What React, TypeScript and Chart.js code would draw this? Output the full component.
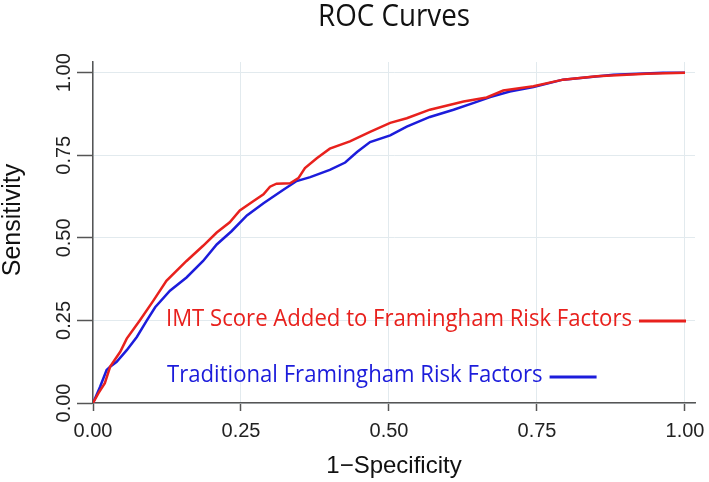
import React, { useEffect, useRef } from "react";
import { Chart, registerables } from "chart.js";

Chart.register(...registerables);

// ---- data ----
const redFpr = [0, 0.009, 0.020, 0.029, 0.046, 0.057, 0.079, 0.102, 0.124, 0.158, 0.186, 0.209, 0.231, 0.248, 0.270, 0.288, 0.299, 0.310, 0.333, 0.347, 0.358, 0.378, 0.400, 0.434, 0.468, 0.502, 0.530, 0.569, 0.626, 0.665, 0.693, 0.744, 0.794, 0.851, 0.935, 1.0];
const redTpr = [0, 0.029, 0.060, 0.110, 0.155, 0.195, 0.250, 0.310, 0.370, 0.430, 0.476, 0.516, 0.547, 0.583, 0.610, 0.632, 0.655, 0.664, 0.665, 0.681, 0.711, 0.741, 0.770, 0.792, 0.821, 0.848, 0.862, 0.888, 0.913, 0.925, 0.946, 0.959, 0.979, 0.989, 0.997, 1.0];

const blueFpr = [0, 0.012, 0.023, 0.029, 0.040, 0.057, 0.074, 0.091, 0.105, 0.130, 0.158, 0.186, 0.209, 0.234, 0.260, 0.288, 0.321, 0.344, 0.367, 0.400, 0.426, 0.446, 0.468, 0.502, 0.530, 0.569, 0.609, 0.642, 0.671, 0.704, 0.744, 0.794, 0.879, 0.963, 1.0];
const blueTpr = [0, 0.049, 0.100, 0.110, 0.125, 0.160, 0.200, 0.250, 0.290, 0.340, 0.380, 0.430, 0.480, 0.520, 0.568, 0.605, 0.645, 0.672, 0.684, 0.706, 0.728, 0.760, 0.790, 0.810, 0.837, 0.866, 0.888, 0.908, 0.926, 0.943, 0.957, 0.979, 0.994, 1.0, 1.0];

const axisTicks = [0, 0.25, 0.5, 0.75, 1];
const tickLabels = ["0.00", "0.25", "0.50", "0.75", "1.00"];

const titleText = "ROC Curves";
const xTitle = "1\u2212Specificity";
const yTitle = "Sensitivity";
const redLabel = "IMT Score Added to Framingham Risk Factors";
const blueLabel = "Traditional Framingham Risk Factors";

const RED = "#e8211d";
const BLUE = "#1c1cdb";
const AXIS = "#555555";
const GRID = "#e2eaee";

const textPlugin = {
  id: "rocText",
  afterDraw(chart: any) {
    const ctx = chart.ctx as CanvasRenderingContext2D;
    const xs = chart.scales.x;
    const ys = chart.scales.y;
    ctx.save();
    ctx.textBaseline = "alphabetic";

    // title (condensed humanist look)
    ctx.fillStyle = "#111111";
    ctx.font = '31px "Open Sans"';
    ctx.textAlign = "center";
    const tw = ctx.measureText(titleText).width;
    ctx.save();
    ctx.translate(394, 26);
    ctx.scale(152 / tw, 1);
    ctx.fillText(titleText, 0, 0);
    ctx.restore();

    // x tick labels
    ctx.fillStyle = "#222222";
    ctx.font = '20px "Liberation Sans"';
    ctx.textAlign = "center";
    axisTicks.forEach((v, i) => {
      ctx.fillText(tickLabels[i], xs.getPixelForValue(v), 437);
    });
    // y tick labels (rotated)
    axisTicks.forEach((v, i) => {
      ctx.save();
      ctx.translate(70, ys.getPixelForValue(v));
      ctx.rotate(-Math.PI / 2);
      ctx.fillText(tickLabels[i], 0, 0);
      ctx.restore();
    });

    // axis titles
    ctx.fillStyle = "#111111";
    ctx.font = '24px "Liberation Sans"';
    ctx.fillText(xTitle, 394, 473);
    ctx.save();
    ctx.translate(20, 220);
    ctx.rotate(-Math.PI / 2);
    ctx.font = '25px "Liberation Sans"';
    ctx.fillText(yTitle, 0, 0);
    ctx.restore();

    // in-plot labels
    ctx.font = '24px "Open Sans"';
    ctx.textAlign = "left";
    const wRed = ctx.measureText(redLabel).width;
    const sx = 466 / wRed;
    const drawScaled = (t: string, x: number, y: number, color: string) => {
      ctx.save();
      ctx.translate(x, y);
      ctx.scale(sx, 1);
      ctx.fillStyle = color;
      ctx.fillText(t, 0, 0);
      ctx.restore();
    };
    drawScaled(redLabel, 166, 326, RED);
    ctx.strokeStyle = RED;
    ctx.lineWidth = 3;
    ctx.beginPath();
    ctx.moveTo(166 + wRed * sx + 7, 321);
    ctx.lineTo(166 + wRed * sx + 54, 321);
    ctx.stroke();

    const wBlue = ctx.measureText(blueLabel).width * sx;
    drawScaled(blueLabel, 167, 382, BLUE);
    ctx.strokeStyle = BLUE;
    ctx.beginPath();
    ctx.moveTo(167 + wBlue + 7, 377);
    ctx.lineTo(167 + wBlue + 54, 377);
    ctx.stroke();

    ctx.restore();
  },
};

export default function App() {
  const ref = useRef<HTMLCanvasElement | null>(null);
  useEffect(() => {
    document.body.style.margin = "0";
    const canvas = ref.current;
    if (!canvas) return;
    const setTicks = (s: any) => {
      s.ticks = axisTicks.map((v) => ({ value: v }));
    };
    const chart = new Chart(canvas, {
      type: "scatter",
      data: {
        datasets: [
          {
            label: redLabel,
            data: redFpr.map((x, i) => ({ x, y: redTpr[i] })),
            showLine: true,
            borderColor: RED,
            backgroundColor: RED,
            borderWidth: 2.5,
            pointRadius: 0,
            tension: 0,
          },
          {
            label: blueLabel,
            data: blueFpr.map((x, i) => ({ x, y: blueTpr[i] })),
            showLine: true,
            borderColor: BLUE,
            backgroundColor: BLUE,
            borderWidth: 2.5,
            pointRadius: 0,
            tension: 0,
          },
        ],
      },
      options: {
        animation: false,
        responsive: false,
        maintainAspectRatio: false,
        layout: { padding: { left: 0, right: 14, top: 62, bottom: 0 } },
        plugins: {
          legend: { display: false },
          title: { display: false },
          tooltip: { enabled: false },
        },
        scales: {
          x: {
            type: "linear",
            min: 0,
            max: 1.0169,
            afterBuildTicks: setTicks,
            afterFit: (s: any) => {
              s.height = 79;
            },
            ticks: { display: false },
            grid: { color: GRID, lineWidth: 1, drawTicks: true, tickLength: 8, tickColor: AXIS, tickWidth: 1.5 },
            border: { color: AXIS, width: 1.5 },
          },
          y: {
            type: "linear",
            min: 0,
            max: 1.0324,
            afterBuildTicks: setTicks,
            afterFit: (s: any) => {
              s.width = 93;
            },
            ticks: { display: false },
            grid: { color: GRID, lineWidth: 1, drawTicks: true, tickLength: 16, tickColor: AXIS, tickWidth: 1.5 },
            border: { color: AXIS, width: 1.5 },
          },
        },
      },
      plugins: [textPlugin],
    } as any);
    const fonts: any = (document as any).fonts;
    if (fonts && fonts.load) {
      Promise.all([
        fonts.load('31px "Open Sans"'),
        fonts.load('20px "Liberation Sans"'),
      ]).then(() => chart.draw()).catch(() => {});
    }
    return () => {
      chart.destroy();
    };
  }, []);
  return (
    <div style={{ width: 709, height: 482 }}>
      <canvas ref={ref} width={709} height={482} style={{ display: "block" }} />
    </div>
  );
}
